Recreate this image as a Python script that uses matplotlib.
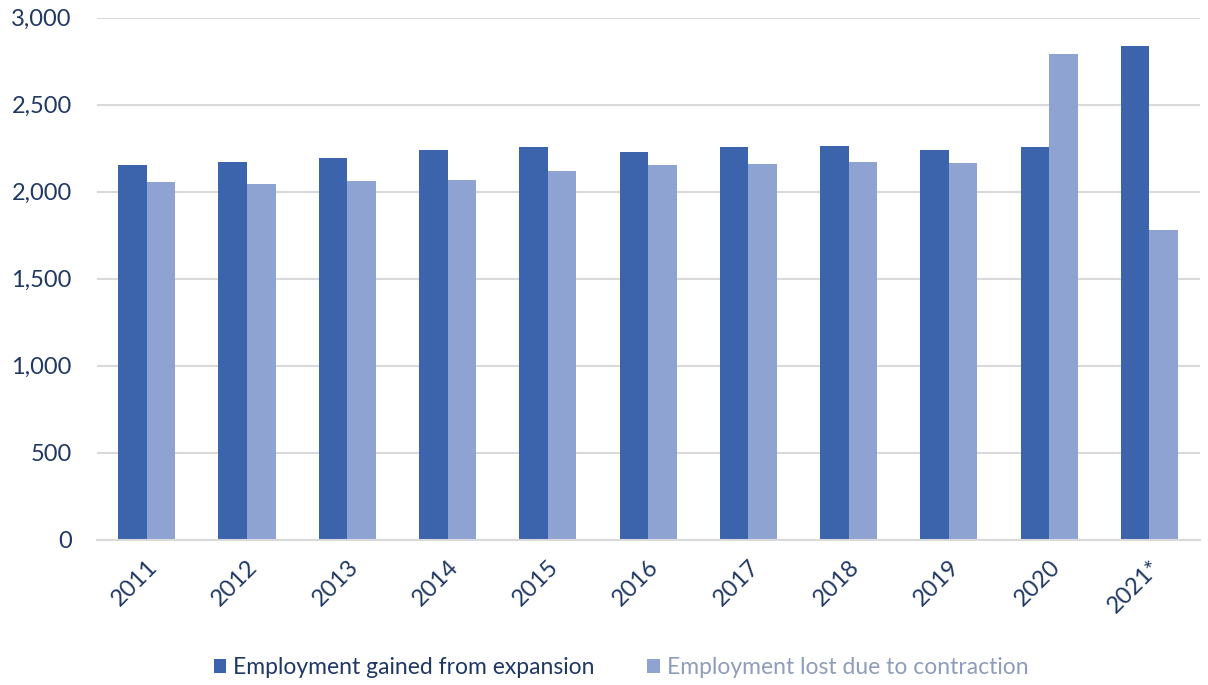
import numpy as np
import matplotlib.pyplot as plt

# Data
years = ['2011', '2012', '2013', '2014', '2015', '2016', '2017', '2018', '2019', '2020', '2021*']
gained = [2155, 2172, 2195, 2243, 2259, 2230, 2259, 2266, 2243, 2257, 2837]
lost = [2057, 2046, 2063, 2069, 2121, 2155, 2157, 2172, 2167, 2793, 1780]

dark = '#3C64AC'
light = '#8FA3D3'
text_col = '#1F3864'

plt.rcParams['font.family'] = ['Lato', 'DejaVu Sans']

fig = plt.figure(figsize=(12.08, 6.85), dpi=100)
ax = fig.add_axes([0.080, 0.212, 0.913, 0.762])

x = np.arange(len(years))
w = 0.285
ax.bar(x - w / 2, gained, w, color=dark, label='Employment gained from expansion')
ax.bar(x + w / 2, lost, w, color=light, label='Employment lost due to contraction')

ax.set_xlim(-0.5, len(years) - 0.5)
ax.set_ylim(0, 3000)
ax.set_yticks(range(0, 3001, 500))
ax.set_yticklabels([f'{v:,}' for v in range(0, 3001, 500)])
ax.set_xticks(x)
ax.set_xticklabels(years, rotation=45, ha='right', rotation_mode='anchor')

ax.grid(True, axis='y', color='#D9D9D9', linewidth=1.5)
ax.set_axisbelow(True)
for s in ['top', 'right', 'left']:
    ax.spines[s].set_visible(False)
ax.spines['bottom'].set_color('#D9D9D9')
ax.spines['bottom'].set_linewidth(1.5)
ax.tick_params(axis='both', length=0, labelsize=17, labelcolor=text_col)
ax.tick_params(axis='y', pad=18)
ax.tick_params(axis='x', pad=12)

leg = fig.legend(loc='center', bbox_to_anchor=(0.514, 0.025), ncol=2, frameon=False,
                 fontsize=16.5, handlelength=0.55, handleheight=0.55, handletextpad=0.3,
                 columnspacing=2.3)
leg.get_texts()[0].set_color(text_col)
leg.get_texts()[1].set_color('#8E9DB9')

fig.savefig('out.png', dpi=100)
